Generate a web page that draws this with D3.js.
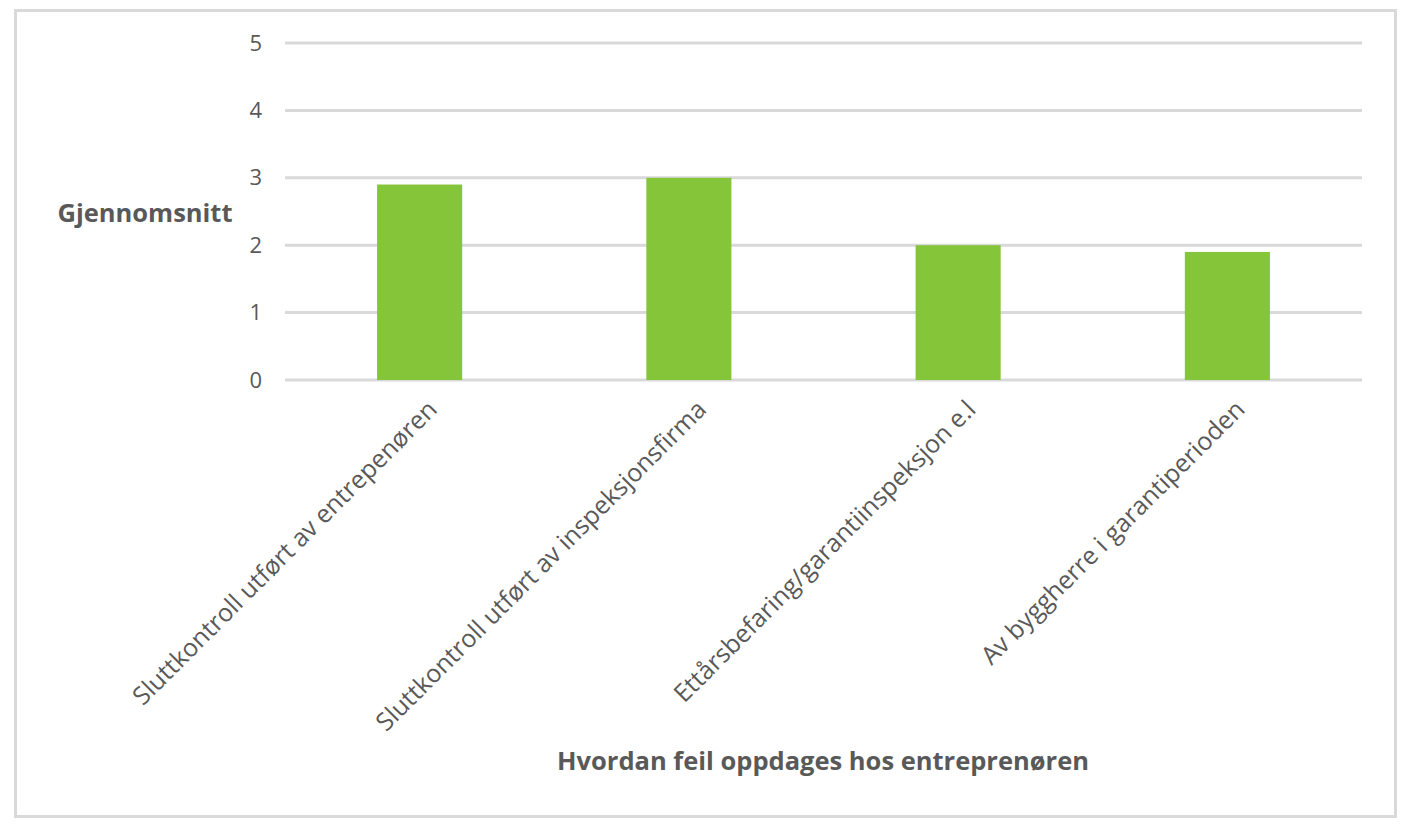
<!DOCTYPE html>
<html><head><meta charset="utf-8">
<script src="https://cdn.jsdelivr.net/npm/d3@7"></script>
<style>body{margin:0;background:#fff}svg{display:block}</style>
</head><body>
<svg id="c" width="1416" height="826"></svg>
<script>
const categories = ["Sluttkontroll utført av entrepenøren","Sluttkontroll utført av inspeksjonsfirma","Ettårsbefaring/garantiinspeksjon e.l","Av byggherre i garantiperioden"];
const values = [2.9, 3.0, 2.0, 1.9];
const yTicks = [0,1,2,3,4,5];
const yTitle = "Gjennomsnitt";
const xTitle = "Hvordan feil oppdages hos entreprenøren";

const svg = d3.select("#c");
const font = "'Open Sans', sans-serif";
const txt = "#595959";
svg.append("rect").attr("x",15.5).attr("y",10.5).attr("width",1380).attr("height",806)
  .attr("fill","#fff").attr("stroke","#d9d9d9").attr("stroke-width",3);

const L=285,R=1362,T=43,B=380;
const x = d3.scaleBand().domain(categories).range([L,R]).paddingInner(0.684).paddingOuter(0.342);
const y = d3.scaleLinear().domain([0,5]).range([B,T]);

const g = svg.append("g");
g.selectAll(".grid").data(yTicks).join("line")
  .attr("x1",L).attr("x2",R).attr("y1",d=>y(d)).attr("y2",d=>y(d))
  .attr("stroke","#d9d9d9").attr("stroke-width",3);

const ya = svg.append("g").attr("transform",`translate(${L},0)`)
  .call(d3.axisLeft(y).tickValues(yTicks).tickSize(0).tickPadding(23).tickFormat(d3.format("d")));
ya.select(".domain").remove();
ya.selectAll("text").attr("font-family",font).attr("font-size",22).attr("fill",txt);

g.selectAll(".bar").data(values).join("rect")
  .attr("x",(d,i)=>x(categories[i])).attr("width",x.bandwidth())
  .attr("y",d=>y(d)).attr("height",d=>B-y(d)).attr("fill","#84c53a");

const xa = svg.append("g").attr("transform",`translate(0,${B})`)
  .call(d3.axisBottom(x).tickSize(0).tickPadding(0));
xa.select(".domain").remove();
xa.selectAll("text").attr("font-family",font).attr("font-size",25).attr("fill",txt)
  .attr("text-anchor","end").attr("dy",0)
  .attr("transform","translate(19,31) rotate(-45)");

svg.append("text").attr("x",145).attr("y",222).attr("text-anchor","middle")
  .attr("font-family",font).attr("font-weight","bold").attr("font-size",25.5).attr("fill",txt).text(yTitle);
svg.append("text").attr("x",823).attr("y",770).attr("text-anchor","middle")
  .attr("font-family",font).attr("font-weight","bold").attr("font-size",25.5).attr("fill",txt).text(xTitle);
</script>
</body></html>
